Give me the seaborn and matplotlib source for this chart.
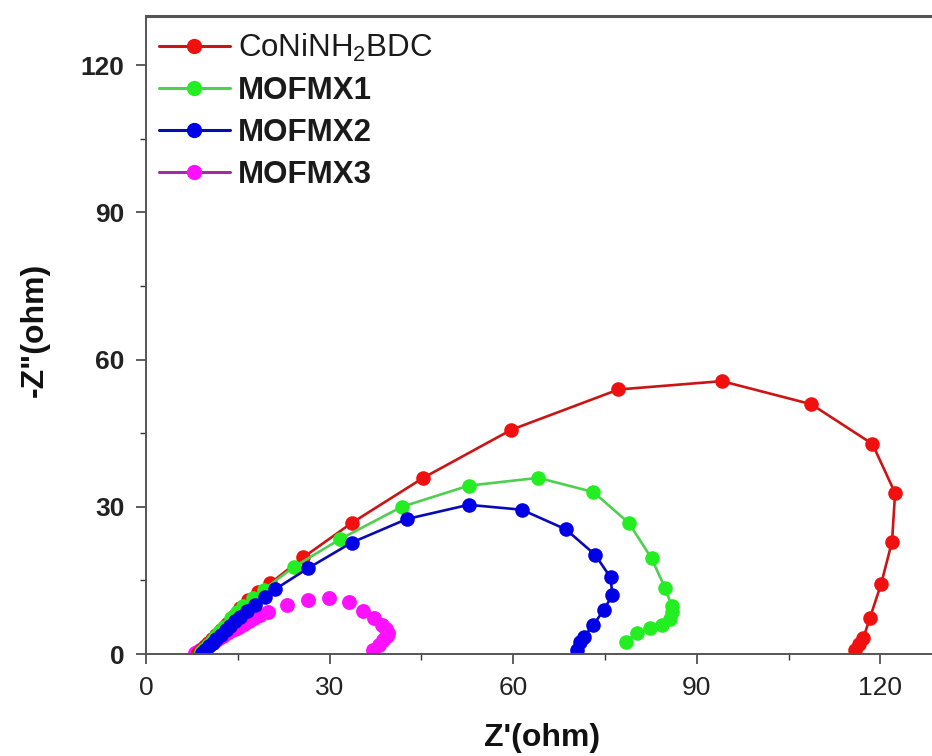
# Nyquist plot of the four electrodes (CoNiNH2BDC and the MOF/MXene composites)

# 1. We import the librairies that we need
import matplotlib
matplotlib.use('Agg')
import matplotlib.pyplot as plt
import seaborn as sns
from matplotlib.lines import Line2D
from matplotlib.ticker import MultipleLocator

# 2. The data (Z' and -Z'' in ohm)
labels = ['CoNiNH$_2$BDC', 'MOFMX1', 'MOFMX2', 'MOFMX3']

coni_x = [8.5, 9.0, 9.6, 10.2, 10.8, 11.5, 12.3, 13.2, 14.3, 15.4, 16.7, 18.3, 20.3,
          25.7, 33.6, 45.3, 59.7, 77.2, 94.1, 108.7, 118.7, 122.4, 121.9, 120.1, 118.3,
          117.2, 116.5, 115.8]
coni_y = [0.3, 0.9, 1.6, 2.3, 3.0, 3.9, 4.9, 6.2, 7.8, 9.3, 11.0, 12.6, 14.4,
          19.7, 26.7, 35.9, 45.7, 53.9, 55.6, 50.9, 42.8, 32.8, 22.9, 14.2, 7.4,
          3.2, 2.0, 0.8]

mx1_x = [9.0, 9.5, 10.1, 10.7, 11.3, 12.0, 12.8, 13.9, 14.9, 15.9, 17.5, 19.2, 24.1,
         31.7, 41.8, 52.7, 64.1, 73.1, 78.9, 82.6, 84.8, 85.9, 86.0, 85.6, 84.3, 82.4,
         80.2, 78.5]
mx1_y = [0.4, 1.0, 1.8, 2.6, 3.4, 4.4, 5.6, 7.3, 8.5, 9.7, 11.4, 13.1, 17.7,
         23.4, 30.0, 34.3, 35.9, 33.0, 26.7, 19.5, 13.5, 9.8, 8.6, 7.1, 5.9, 5.2,
         4.2, 2.5]

mx2_x = [9.2, 9.7, 10.3, 10.9, 11.5, 12.2, 13.0, 13.8, 14.6, 15.4, 16.5, 17.8, 19.4,
         21.1, 26.5, 33.6, 42.6, 52.7, 61.4, 68.6, 73.4, 75.9, 76.2, 74.8, 73.1, 71.5,
         70.9, 70.4]
mx2_y = [0.3, 0.9, 1.6, 2.3, 3.0, 3.8, 4.9, 5.8, 6.8, 7.6, 8.8, 10.0, 11.6,
         13.2, 17.5, 22.7, 27.5, 30.4, 29.4, 25.4, 20.2, 15.6, 12.0, 9.0, 5.9, 3.5,
         2.4, 0.8]

mx3_x = [8.0, 8.4, 8.8, 9.2, 9.6, 10.0, 10.5, 11.0, 11.5, 12.0, 12.6, 13.2, 13.8,
         14.5, 15.2, 16.0, 16.8, 17.7, 18.7, 20.0, 23.0, 26.5, 29.9, 33.2, 35.5,
         37.2, 38.5, 39.2, 39.6, 39.4, 38.8, 38.0, 37.1]
mx3_y = [0.2, 0.5, 0.8, 1.1, 1.4, 1.7, 2.1, 2.5, 2.9, 3.3, 3.7, 4.2, 4.6,
         5.1, 5.6, 6.2, 6.8, 7.4, 8.0, 8.6, 10.0, 11.0, 11.4, 10.5, 8.8,
         7.3, 5.9, 5.0, 4.3, 3.6, 2.9, 1.8, 0.8]

# line colour, marker colour for each serie
line_colors = ['#cc1414', '#4fcf4f', '#0a0ab4', '#a52aa5']
mark_colors = ['#f01010', '#22ee22', '#0000e6', '#ff10ff']

# 3. Figure set up
sns.set_style('ticks')
plt.rcParams['font.family'] = ['Liberation Sans', 'DejaVu Sans']
plt.rcParams['mathtext.default'] = 'regular'

fig = plt.figure(figsize=(9.32, 7.56), dpi=100)
ax = fig.add_axes([0.1567, 0.1349, 0.8536, 0.8439])

# 4. The curves (the three first have a line, MOFMX3 only markers)
series = [(coni_x, coni_y), (mx1_x, mx1_y), (mx2_x, mx2_y)]
for i, (xs, ys) in enumerate(series):
    sns.lineplot(x=xs, y=ys, sort=False, estimator=None, ax=ax, color=line_colors[i],
                 linewidth=1.9, marker='o', markersize=10.5, markerfacecolor=mark_colors[i],
                 markeredgewidth=0, legend=False)

sns.scatterplot(x=mx3_x, y=mx3_y, ax=ax, color=mark_colors[3], s=115, linewidth=0,
                legend=False)

# 5. Axes, ticks and labels
ax.set_xlim(0, 130)
ax.set_ylim(0, 130)
ax.xaxis.set_major_locator(MultipleLocator(30))
ax.xaxis.set_minor_locator(MultipleLocator(15))
ax.yaxis.set_major_locator(MultipleLocator(30))
ax.yaxis.set_minor_locator(MultipleLocator(15))
ax.tick_params(which='major', direction='out', length=7.5, width=1.1, color='#333333', pad=8)
ax.tick_params(which='minor', direction='out', length=4, width=1.0, color='#333333')
for side in ['left', 'bottom', 'top', 'right']:
    ax.spines[side].set_color('#555555')
    ax.spines[side].set_linewidth(1.4)
ax.spines['top'].set_linewidth(2.2)

for lab in ax.get_xticklabels():
    lab.set_fontsize(19)
    lab.set_color('#222222')
for lab in ax.get_yticklabels():
    lab.set_fontsize(19)
    lab.set_fontweight('bold')
    lab.set_color('#222222')

ax.set_xlabel("Z'(ohm)", fontsize=23, fontweight='bold', color='#111111')
ax.set_ylabel('-Z"(ohm)', fontsize=23, fontweight='bold', color='#111111')
ax.xaxis.set_label_coords(0.498, -0.108)
ax.yaxis.set_label_coords(-0.121, 0.508)
ax.xaxis.label.set_va('top')

# 6. Legend with line + marker handles
handles = [Line2D([], [], color=line_colors[i], linewidth=2.2, marker='o', markersize=11,
                  markerfacecolor=mark_colors[i], markeredgewidth=0) for i in range(4)]
leg = ax.legend(handles, labels, loc='upper left', bbox_to_anchor=(0.008, 0.985),
                frameon=False, fontsize=22.5, handlelength=2.27, handletextpad=0.26,
                labelspacing=0.38, borderaxespad=0, borderpad=0.2)
for k, txt in enumerate(leg.get_texts()):
    txt.set_color('#1a1a1a')
    if k > 0:
        txt.set_fontweight('bold')

fig.savefig('out.png', dpi=100)
